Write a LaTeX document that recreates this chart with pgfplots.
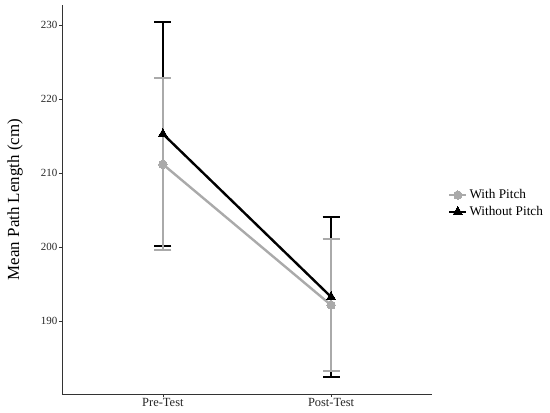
\documentclass[border=0pt]{standalone}
\usepackage{fontspec}
\setmainfont{Liberation Serif}
\usepackage{pgfplots}
\pgfplotsset{compat=1.18}
\definecolor{gpitch}{RGB}{170,170,170}
\definecolor{axgray}{RGB}{51,51,51}
\begin{document}
\begin{tikzpicture}
\begin{axis}[
  scale only axis,
  width=370bp, height=389bp,
  xmin=0.4, xmax=2.6,
  ymin=180.2, ymax=232.7,
  axis lines*=left,
  axis line style={axgray, line width=0.9bp, -},
  xtick={1,2},
  xticklabels={Pre-Test,Post-Test},
  ytick={190,200,210,220,230},
  tick align=outside,
  major tick length=3bp,
  tick style={axgray, line width=0.8bp},
  /pgf/number format/assume math mode=true,
  yticklabel style={font=\fontsize{11}{12}\selectfont, color=black!85, inner sep=1.5bp},
  xticklabel style={font=\fontsize{12.5}{14}\selectfont, color=black!85, inner sep=1bp},
  ylabel={Mean Path Length (cm)},
  every axis y label/.style={at={(axis description cs:-0.127,0.5)}, rotate=90, anchor=center, font=\fontsize{17}{19}\selectfont},
  legend style={draw=none, fill=none, at={(axis description cs:1.043,0.49)}, anchor=west,
    font=\fontsize{13.3}{15}\selectfont, row sep=2bp, inner xsep=0bp, inner ysep=0bp},
  legend cell align=left,
  clip=false,
]
% error bars (drawn first, as in the reference)
\addplot[draw=none, forget plot, error bars/.cd, y dir=both, y explicit,
  error bar style={black, line width=2bp},
  error mark options={black, line width=2bp, mark size=8.5bp, rotate=90}]
  coordinates {(1,215.3) +- (0,15.1) (2,193.3) +- (0,10.8)};
\addplot[draw=none, forget plot, error bars/.cd, y dir=both, y explicit,
  error bar style={gpitch, line width=2bp},
  error mark options={gpitch, line width=2bp, mark size=8.5bp, rotate=90}]
  coordinates {(1,211.2) +- (0,11.6) (2,192.2) +- (0,8.9)};
% lines and points
\addplot[gpitch, line width=2.4bp, mark=*, mark size=4.2bp, mark options={solid, fill=gpitch, draw=gpitch, line width=0bp}]
  coordinates {(1,211.2) (2,192.2)};
\addlegendentry{With Pitch}
\addplot[black, line width=2.4bp, mark=triangle*, mark size=5.2bp, mark options={solid, fill=black, line width=0bp}]
  coordinates {(1,215.3) (2,193.3)};
\addlegendentry{Without Pitch}
\end{axis}
\pgfresetboundingbox
\path (current axis.south west) ++(-62bp,-19bp) rectangle ++(550bp,413bp);
\end{tikzpicture}
\end{document}
